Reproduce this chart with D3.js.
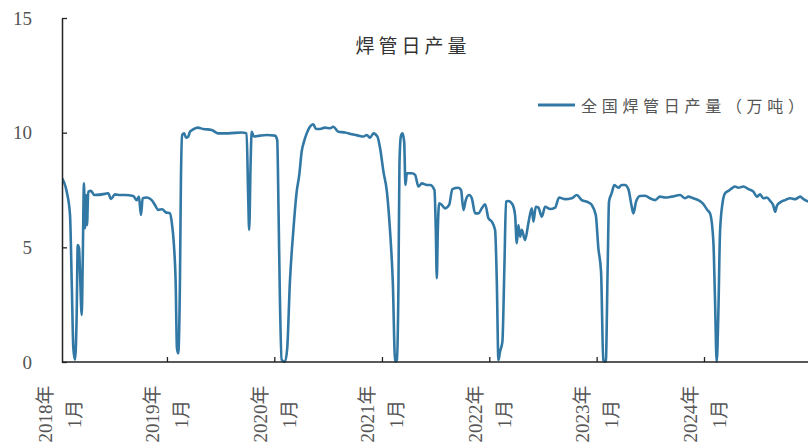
<!DOCTYPE html>
<html><head><meta charset="utf-8">
<script src="https://cdn.jsdelivr.net/npm/d3@7/dist/d3.min.js"></script>
<style>
html,body{margin:0;padding:0;background:#fff;}
svg{display:block;}
</style>
</head><body>
<svg id="chart" width="808" height="448"></svg>
<script>
// ---- data (dates in decimal years, values in 万吨) ----
const dates = [
2018.013,2018.066,2018.097,2018.113,2018.128,2018.143,2018.159,2018.169,2018.181,2018.190,
2018.206,2018.215,2018.227,2018.236,2018.246,2018.255,2018.267,2018.292,2018.323,2018.423,
2018.453,2018.479,2018.516,2018.562,2018.609,2018.686,2018.718,2018.739,2018.758,2018.774,
2018.811,2018.858,2018.888,2018.919,2018.956,2018.988,2019.028,2019.044,2019.065,2019.081,
2019.093,2019.105,2019.121,2019.130,2019.142,2019.161,2019.177,2019.198,2019.214,2019.236,
2019.286,2019.338,2019.416,2019.478,2019.571,2019.696,2019.742,2019.757,2019.766,2019.779,
2019.789,2019.810,2019.866,2019.928,2020.006,2020.027,2020.040,2020.052,2020.068,2020.099,
2020.120,2020.145,2020.176,2020.208,2020.232,2020.254,2020.276,2020.301,2020.331,2020.362,
2020.387,2020.425,2020.471,2020.518,2020.548,2020.595,2020.657,2020.720,2020.781,2020.828,
2020.859,2020.890,2020.921,2020.958,2020.983,2021.014,2021.046,2021.076,2021.101,2021.123,
2021.139,2021.154,2021.163,2021.176,2021.191,2021.207,2021.219,2021.232,2021.278,2021.309,
2021.340,2021.372,2021.418,2021.449,2021.489,2021.502,2021.511,2021.520,2021.533,2021.558,
2021.588,2021.626,2021.656,2021.712,2021.737,2021.759,2021.781,2021.812,2021.837,2021.868,
2021.899,2021.930,2021.961,2021.992,2022.023,2022.054,2022.070,2022.085,2022.100,2022.122,
2022.141,2022.156,2022.178,2022.215,2022.240,2022.256,2022.271,2022.287,2022.303,2022.333,
2022.364,2022.396,2022.411,2022.433,2022.457,2022.489,2022.520,2022.566,2022.613,2022.650,
2022.706,2022.768,2022.815,2022.861,2022.923,2022.954,2022.992,2023.016,2023.041,2023.062,
2023.085,2023.103,2023.115,2023.140,2023.165,2023.202,2023.234,2023.264,2023.295,2023.327,
2023.342,2023.367,2023.404,2023.451,2023.497,2023.544,2023.590,2023.637,2023.699,2023.777,
2023.823,2023.854,2023.900,2023.947,2023.988,2024.031,2024.056,2024.087,2024.102,2024.118,
2024.133,2024.149,2024.174,2024.196,2024.227,2024.258,2024.288,2024.319,2024.366,2024.412,
2024.459,2024.491,2024.521,2024.552,2024.584,2024.615,2024.642,2024.661,2024.677,2024.708,
2024.754,2024.801,2024.847,2024.894,2024.925,2024.968
];
const output = [
8.08,7.43,6.41,3.5,0.6,0.1,2.05,5.1,4.96,3.94,
2.05,4.23,7.79,5.83,7.28,5.97,7.43,7.46,7.28,7.33,
7.36,7.11,7.31,7.28,7.28,7.24,7.06,7.21,6.41,7.14,
7.17,7.06,6.85,6.63,6.66,6.53,6.48,6.12,5.1,3.5,
0.61,0.38,3.5,7.86,9.9,9.97,9.78,9.83,10.04,10.12,
10.22,10.16,10.12,9.97,9.97,10.01,9.97,7.14,5.76,8.59,
10.04,9.83,9.87,9.9,9.87,9.68,6.41,2.78,0.1,0.01,
0.6,3.5,5.68,7.43,8.16,9.17,9.61,9.97,10.26,10.37,
10.16,10.16,10.22,10.19,10.26,10.04,10.01,9.93,9.87,9.83,
9.9,9.78,9.97,9.83,9.32,8.3,7.43,5.68,3.5,0.01,
0.09,3.5,8.59,9.83,9.97,9.61,7.72,8.23,8.23,8.16,
7.65,7.79,7.72,7.72,7.5,5.68,3.65,5.68,6.92,6.85,
6.7,6.85,7.54,7.6,7.5,6.63,7.06,7.28,7.14,6.48,
6.48,6.7,6.88,6.27,6.12,5.76,3.5,0.09,0.45,0.89,
4.23,6.99,7.02,6.88,6.41,5.18,5.97,5.46,5.76,5.32,
6.05,6.7,6.12,6.77,6.73,6.34,6.77,6.67,6.73,7.17,
7.1,7.14,7.28,7.06,6.96,6.85,6.41,4.96,3.94,0.09,
0.01,4.23,6.99,7.36,7.72,7.6,7.72,7.72,7.54,6.77,
6.48,6.99,7.24,7.25,7.14,7.06,7.21,7.17,7.21,7.28,
7.14,7.21,7.14,7.06,6.92,6.63,6.48,5.25,2.78,0.01,
2.05,5.68,6.99,7.36,7.46,7.57,7.65,7.6,7.65,7.54,
7.43,7.21,7.31,7.14,7.17,7.02,6.85,6.55,6.81,6.96,
7.06,7.14,7.1,7.21,7.1,7.0
];
const yearTicks = [2018,2019,2020,2021,2022,2023,2024];
const yTicks = [0,5,10,15];
const titleText = "焊管日产量";
const seriesName = "全国焊管日产量（万吨）";

// ---- drawing ----
const toDate = t => { const yy = Math.floor(t); const a = new Date(yy,0,1), b = new Date(yy+1,0,1); return new Date(+a + (t-yy)*(b-a)); };
const data = dates.map((t,i)=>({d: toDate(t), v: output[i]}));

const svg = d3.select("#chart");
const mL = 62, mR = 808, mT = 18, mB = 362;
const x = d3.scaleTime().domain([new Date(2018,0,1), new Date(2024,0,1)]).range([59.6, 59.6 + 6*107.4]);
const y = d3.scaleLinear().domain([0,15]).range([mB, mT]);
const serif = "'Liberation Serif','Times New Roman','Noto Sans CJK SC',serif";
const cjk = "'Noto Sans CJK SC','Noto Sans',sans-serif";
const col = "#3278a5";

svg.append("defs").append("clipPath").attr("id","clip")
  .append("rect").attr("x",mL).attr("y",0).attr("width",mR-mL).attr("height",mB+4);

svg.append("path").datum(data)
  .attr("clip-path","url(#clip)")
  .attr("fill","none").attr("stroke",col).attr("stroke-width",2.6)
  .attr("stroke-linejoin","round")
  .attr("d", d3.line().x(d=>x(d.d)).y(d=>y(d.v)).curve(d3.curveMonotoneX));

// y axis
const ya = svg.append("g").attr("transform",`translate(${mL},0)`)
  .call(d3.axisLeft(y).tickValues(yTicks).tickSize(-5).tickSizeOuter(0).tickPadding(30).tickFormat(d3.format("d")));
ya.select(".domain").attr("stroke","#222").attr("stroke-width",1.5);
ya.selectAll(".tick line").attr("stroke","#222").attr("stroke-width",1.3);
ya.selectAll(".tick text").attr("font-family",serif).attr("font-size",19).attr("fill","#555");

// x axis
const xa = svg.append("g").attr("transform",`translate(0,${mB})`)
  .call(d3.axisBottom(x).tickValues(yearTicks.map(yv=>new Date(yv,0,1))).tickSize(-5).tickSizeOuter(0).tickFormat(""));
xa.select(".domain").remove();
xa.selectAll(".tick line").attr("stroke","#222").attr("stroke-width",1.3)
  .style("display", d => x(d) < mL ? "none" : null);
xa.append("line").attr("x1",mL).attr("x2",mR).attr("y1",0).attr("y2",0)
  .attr("stroke","#222").attr("stroke-width",1.5);

const lab = svg.append("g");
yearTicks.forEach(yv=>{
  const g = lab.append("g").attr("transform",`translate(${x(new Date(yv,0,1))},414) rotate(-90)`);
  g.append("text").attr("x",0).attr("y",-14).attr("text-anchor","middle").attr("dominant-baseline","central")
    .attr("font-family",serif).attr("font-size",19).attr("fill","#555").text(yv + "年");
  g.append("text").attr("x",0).attr("y",15).attr("text-anchor","middle").attr("dominant-baseline","central")
    .attr("font-family",serif).attr("font-size",19).attr("fill","#555").text("1月");
});

// title
svg.append("text").attr("x",413).attr("y",44).attr("text-anchor","middle").attr("dominant-baseline","central")
  .attr("font-family",cjk).attr("font-size",19).attr("letter-spacing",4).attr("fill","#333").text(titleText);

// legend
svg.append("line").attr("x1",538).attr("x2",575).attr("y1",105).attr("y2",105)
  .attr("stroke",col).attr("stroke-width",3);
svg.append("text").attr("x",581).attr("y",105).attr("dominant-baseline","central")
  .attr("font-family",cjk).attr("font-size",16).attr("letter-spacing",4.7).attr("fill","#555").text(seriesName);
</script>
</body></html>
